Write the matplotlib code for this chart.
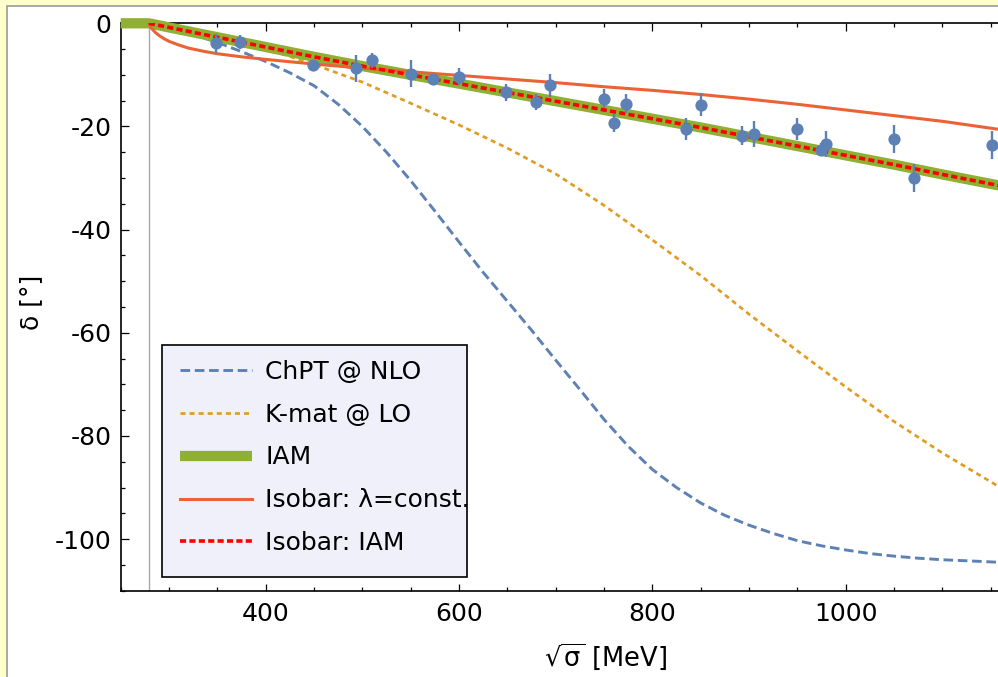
import matplotlib
matplotlib.use("Agg")
import matplotlib.pyplot as plt
from matplotlib.patches import Rectangle
from matplotlib.ticker import MultipleLocator

plt.rcParams["font.family"] = ["DejaVu Sans"]
plt.rcParams["mathtext.fontset"] = "dejavusans"
plt.rcParams["axes.unicode_minus"] = False

# threshold 2 m_pi
threshold = 279.14

# data points (sqrt(sigma) [MeV], delta [deg], error)
data_x = [349, 373, 449, 493, 510, 550, 573, 600, 649, 680, 694, 750,
          760, 773, 835, 850, 893, 905, 950, 974, 980, 1050, 1071, 1151]
data_y = [-3.9, -3.7, -8.0, -8.7, -7.2, -9.8, -10.8, -10.4, -13.4, -15.3, -12.0, -14.6,
          -19.3, -15.6, -20.5, -15.8, -21.8, -21.4, -20.5, -24.5, -23.4, -22.4, -30.0, -23.6]
data_err = [1.9, 1.35, 0.9, 2.6, 1.4, 2.6, 0.7, 1.65, 1.65, 1.5, 2.25, 1.8,
            1.7, 1.8, 2.2, 2.2, 1.8, 2.5, 2.2, 1.2, 2.5, 2.7, 2.8, 2.7]

# ChPT @ NLO
chpt_x = [threshold, 290, 300, 325, 350, 375, 400, 425, 450, 475, 500, 525, 550, 575,
          600, 625, 650, 675, 700, 725, 750, 775, 800, 825, 850, 875, 900, 925,
          950, 975, 1000, 1025, 1050, 1075, 1100, 1125, 1160]
chpt_y = [0, -0.5, -1.0, -2.2, -3.7, -5.5, -7.4, -9.6, -12.1, -15.7, -20.0, -25.0, -30.5, -36.4,
          -42.4, -48.3, -53.9, -59.5, -65.3, -71.0, -76.8, -82.0, -86.5, -90.0, -93.0, -95.4, -97.3, -98.9,
          -100.3, -101.3, -102.1, -102.8, -103.3, -103.7, -104.0, -104.2, -104.5]

# K-matrix @ LO
kmat_x = [threshold, 300, 325, 350, 375, 400, 450, 500, 550, 600, 650, 700,
          750, 800, 850, 900, 950, 1000, 1050, 1100, 1160]
kmat_y = [0, -0.8, -1.8, -2.8, -3.8, -4.9, -8.0, -11.4, -15.5, -19.7, -24.2, -29.2,
          -35.3, -42.0, -48.9, -56.4, -63.5, -70.5, -77.2, -83.3, -90.0]

# IAM
iam_x = [250, threshold, 300, 350, 400, 450, 500, 550, 600, 650, 700, 750,
         800, 850, 900, 950, 1000, 1050, 1100, 1160]
iam_y = [0, 0, -0.8, -2.7, -4.6, -6.5, -8.3, -10.0, -11.7, -13.4, -15.1, -16.8,
         -18.5, -20.2, -22.0, -23.8, -25.6, -27.4, -29.3, -31.5]

# Isobar: lambda = const.
isoc_x = [threshold, 282, 286, 290, 295, 300, 310, 320, 335, 350, 375, 400, 450, 500,
          550, 600, 650, 700, 750, 800, 850, 900, 950, 1000, 1050, 1100, 1160]
isoc_y = [0, -1.0, -1.8, -2.4, -3.0, -3.5, -4.2, -4.8, -5.4, -5.9, -6.5, -7.0, -7.9, -8.7,
          -9.4, -10.1, -10.8, -11.5, -12.3, -13.0, -13.8, -14.7, -15.7, -16.8, -17.9, -19.0, -20.6]

# Isobar: IAM (on top of the IAM band)
isoi_x = iam_x[1:]
isoi_y = iam_y[1:]

blue = "#5E81B5"
orange = "#E19C24"
green = "#8FB032"
red_orange = "#EB6235"

fig = plt.figure(figsize=(9.98, 6.77), dpi=100, facecolor="#FFFFCC")
# white panel with grey border (top/left edges visible)
fig.patches.append(Rectangle((7 / 998, -0.05), 1.2, 1.05 - 6 / 677,
                             transform=fig.transFigure, facecolor="white",
                             edgecolor="#9A9A9A", lw=1.2, zorder=-10))

ax_w = 918.0  # px, right spine falls outside the picture
ax_h = 567.4
ax = fig.add_axes([120.7 / 998, 86.3 / 677, ax_w / 998, ax_h / 677])
ax.set_facecolor("white")

ax.axvline(threshold, color="#A8A8A8", lw=1.0, zorder=1)

ax.plot(chpt_x, chpt_y, color=blue, lw=2.1, ls=(0, (3.3, 1.6)), label="ChPT @ NLO", zorder=2)
ax.plot(kmat_x, kmat_y, color=orange, lw=1.95, ls=(0, (1.85, 1.5)), label="K-mat @ LO", zorder=2)
ax.plot(iam_x, iam_y, color=green, lw=7.4, solid_capstyle="butt", label="IAM",
        zorder=3, clip_on=False)
ax.plot(isoc_x, isoc_y, color=red_orange, lw=2.2, label="Isobar: λ=const.", zorder=4)
ax.plot(isoi_x, isoi_y, color="#FF0000", lw=2.6, ls=(0, (1.7, 0.9)), label="Isobar: IAM", zorder=4)

ax.errorbar(data_x, data_y, yerr=data_err, fmt="o", color=blue, ms=8.8, mew=0,
            elinewidth=1.7, capsize=3.4, capthick=1.7, zorder=5)

ax.set_xlim(250, 250 + ax_w / 0.9667)
ax.set_ylim(-110, 0)
ax.xaxis.set_major_locator(MultipleLocator(200))
ax.xaxis.set_minor_locator(MultipleLocator(50))
ax.yaxis.set_major_locator(MultipleLocator(20))
ax.yaxis.set_minor_locator(MultipleLocator(5))
ax.set_xticks([400, 600, 800, 1000])
ax.tick_params(which="both", direction="in", top=True, right=True, width=0.9)
ax.tick_params(which="major", length=5.4, labelsize=18)
ax.tick_params(which="minor", length=3.1)
ax.tick_params(axis="x", pad=8.3)
ax.tick_params(axis="y", pad=6.6)
for s in ax.spines.values():
    s.set_linewidth(1.2)

ax.set_xlabel(r"$\sqrt{\mathrm{\sigma}}$ [MeV]", fontsize=18.5)
ax.xaxis.set_label_coords(605 / 998, 1 - 641 / 677, transform=fig.transFigure)
ax.set_ylabel("δ [°]", fontsize=18)
ax.yaxis.set_label_coords(43 / 998, 1 - 302 / 677, transform=fig.transFigure)

# legend: fixed box like the original (the long label runs past its edge)
ax.add_patch(Rectangle((41.6 / ax_w, 14 / ax_h), 304.4 / ax_w, 231.7 / ax_h,
                       transform=ax.transAxes, facecolor="#F0F0FA", edgecolor="black",
                       lw=1.2, zorder=6))
leg = ax.legend(loc="upper left", bbox_to_anchor=(59.3 / ax_w, 231.0 / ax_h),
                borderaxespad=0, borderpad=0, frameon=False,
                fontsize=18, handlelength=2.88, handletextpad=0.53, labelspacing=0.755)
leg.set_zorder(7)

fig.savefig("out.png", dpi=100, facecolor=fig.get_facecolor())
